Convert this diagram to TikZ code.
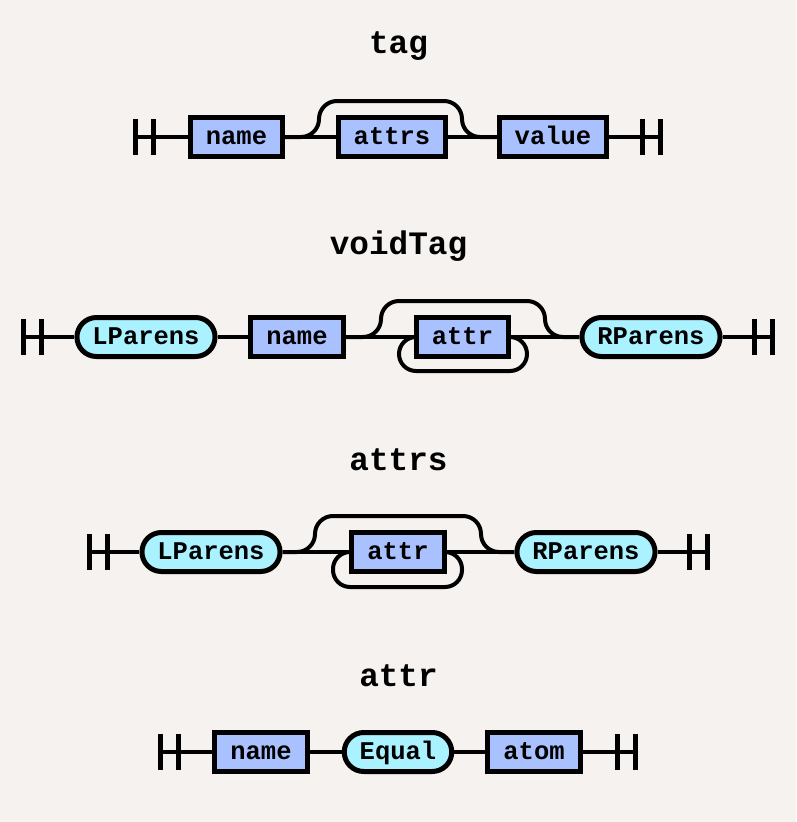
\documentclass[tikz,border=0pt]{standalone}
\usepackage{fontspec}
\newfontfamily\rrfont{Liberation Mono}
\definecolor{paper}{RGB}{245,242,239}
\definecolor{ntfill}{RGB}{170,193,255}
\definecolor{tfill}{RGB}{170,242,255}

\tikzset{
  rail/.style={line width=4pt},
  bar/.style={line width=5pt},
  nonterm/.style={draw, line width=5pt, fill=ntfill, minimum height=39pt,
    inner xsep=15.5pt, inner ysep=0pt, text height=14pt, text depth=0pt,
    font=\rrfont\bfseries\fontsize{25.5}{30}\selectfont},
  term/.style={nonterm, fill=tfill, rounded corners=19.5pt},
  title/.style={anchor=base, font=\rrfont\bfseries\fontsize{32.7}{38}\selectfont}
}

\begin{document}
\begin{tikzpicture}[x=1pt,y=-1pt]
		\fill[paper] (0,0) rectangle (796,822);
		\useasboundingbox (0,0) rectangle (796,822);

		% tag
		\node[title] (ttag) at (398.5,53) {tag};
		\coordinate (s1) at (135,137);
		\coordinate (e1) at (660,137);
		\node[nonterm] (name1) at (236.5,137) {name};
		\node[nonterm] (attrs1) at (392,137) {attrs};
		\node[nonterm] (value1) at (553,137) {value};
		\draw[bar] (s1) ++(0,-18) -- ++(0,36);
		\draw[bar] (s1) ++(18,-18) -- ++(0,36);
		\draw[bar] (e1) ++(0,-18) -- ++(0,36);
		\draw[bar] (e1) ++(-18,-18) -- ++(0,36);
		\draw[rail] (s1) -- (name1.west);
		\draw[rail] (name1.east) -- (attrs1.west);
		\draw[rail] (attrs1.east) -- (value1.west);
		\draw[rail] (value1.east) -- (e1);
		\draw[rail,rounded corners=18pt] (name1.east) -- (319,137) -- (319,101) -- (462,101) -- (462,137) -- (value1.west);

		% voidTag
		\node[title] (tvoid) at (398.5,254) {voidTag};
		\coordinate (s2) at (23,337);
		\coordinate (e2) at (772,337);
		\node[term] (lpar2) at (146,337) {LParens};
		\node[nonterm] (name2) at (297,337) {name};
		\node[nonterm] (attr2) at (462.5,337) {attr};
		\node[term] (rpar2) at (651,337) {RParens};
		\draw[bar] (s2) ++(0,-18) -- ++(0,36);
		\draw[bar] (s2) ++(18,-18) -- ++(0,36);
		\draw[bar] (e2) ++(0,-18) -- ++(0,36);
		\draw[bar] (e2) ++(-18,-18) -- ++(0,36);
		\draw[rail] (s2) -- (lpar2.west);
		\draw[rail] (lpar2.east) -- (name2.west);
		\draw[rail] (name2.east) -- (attr2.west);
		\draw[rail] (attr2.east) -- (rpar2.west);
		\draw[rail] (rpar2.east) -- (e2);
		\draw[rail,rounded corners=18pt] (name2.east) -- (381,337) -- (381,301) -- (545,301) -- (545,337) -- (rpar2.west);
		\draw[rail,rounded corners=17pt] (attr2.east) -- (527,337) -- (527,371) -- (399,371) -- (399,337) -- (attr2.west);

		% attrs
		\node[title] (tattrs) at (398.5,470) {attrs};
		\coordinate (s3) at (89,552);
		\coordinate (e3) at (707,552);
		\node[term] (lpar3) at (211,552) {LParens};
		\node[nonterm] (attr3) at (398,552) {attr};
		\node[term] (rpar3) at (586,552) {RParens};
		\draw[bar] (s3) ++(0,-18) -- ++(0,36);
		\draw[bar] (s3) ++(18,-18) -- ++(0,36);
		\draw[bar] (e3) ++(0,-18) -- ++(0,36);
		\draw[bar] (e3) ++(-18,-18) -- ++(0,36);
		\draw[rail] (s3) -- (lpar3.west);
		\draw[rail] (lpar3.east) -- (attr3.west);
		\draw[rail] (attr3.east) -- (rpar3.west);
		\draw[rail] (rpar3.east) -- (e3);
		\draw[rail,rounded corners=18pt] (lpar3.east) -- (315,552) -- (315,516) -- (481,516) -- (481,552) -- (rpar3.west);
		\draw[rail,rounded corners=17pt] (attr3.east) -- (462,552) -- (462,587) -- (333,587) -- (333,552) -- (attr3.west);

		% attr
		\node[title] (tattr) at (398.5,686) {attr};
		\coordinate (s4) at (160,752);
		\coordinate (e4) at (635,752);
		\node[nonterm] (name4) at (261,752) {name};
		\node[term] (equal4) at (398,752) {Equal};
		\node[nonterm] (atom4) at (534,752) {atom};
		\draw[bar] (s4) ++(0,-18) -- ++(0,36);
		\draw[bar] (s4) ++(18,-18) -- ++(0,36);
		\draw[bar] (e4) ++(0,-18) -- ++(0,36);
		\draw[bar] (e4) ++(-18,-18) -- ++(0,36);
		\draw[rail] (s4) -- (name4.west);
		\draw[rail] (name4.east) -- (equal4.west);
		\draw[rail] (equal4.east) -- (atom4.west);
		\draw[rail] (atom4.east) -- (e4);
\end{tikzpicture}
\end{document}
